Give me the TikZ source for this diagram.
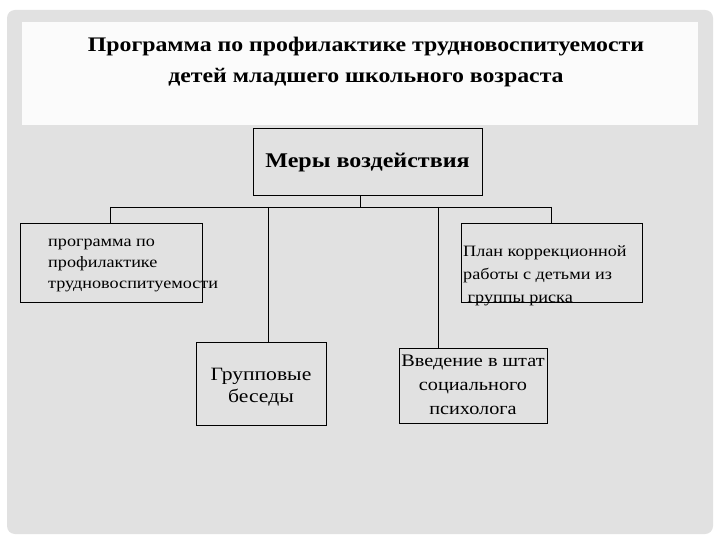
\documentclass[tikz,border=0pt]{standalone}
\usepackage{fontspec}
\setmainfont{Liberation Serif}[FakeStretch=1.15]
\definecolor{slidegray}{HTML}{E1E1E1}
\definecolor{panelwhite}{HTML}{FBFBFB}
\begin{document}
\begin{tikzpicture}[x=1pt,y=-1pt,
  box/.style={draw=black, line width=0.8pt, inner sep=0pt},
  ln/.style={inner sep=0pt, anchor=base west},
  lnc/.style={inner sep=0pt, anchor=base},
  link/.style={draw=black, line width=0.8pt}]
\useasboundingbox (0,0) rectangle (720,540);
\fill[white] (0,0) rectangle (720,540);
\fill[slidegray, rounded corners=8pt] (7,10) rectangle (713,534);
\fill[panelwhite] (22,22) rectangle (698,125);
% title
\node[lnc, font=\bfseries\fontsize{20.7}{26}\selectfont] (t1) at (366,52) {Программа по профилактике трудновоспитуемости};
\node[lnc, font=\bfseries\fontsize{20.7}{26}\selectfont] (t2) at (366,83) {детей младшего школьного возраста};
% boxes
\node[box, minimum width=229pt, minimum height=67pt] (mery) at (367.5,161.5) {};
\node[box, minimum width=182pt, minimum height=79pt] (left) at (111,262.5) {};
\node[box, minimum width=181pt, minimum height=79pt] (right) at (551.5,262.5) {};
\node[box, minimum width=130pt, minimum height=83pt] (grp) at (261,383.5) {};
\node[box, minimum width=148pt, minimum height=75pt] (vved) at (473,385.5) {};
% texts
\node[lnc, font=\bfseries\fontsize{20.9}{26}\selectfont] (mt) at (367.5,168) {Меры воздействия};
\begin{scope}[font=\fontsize{15.8}{20}\selectfont]
\node[ln] (l1) at (48,246) {программа по};
\node[ln] (l2) at (48,267) {профилактике};
\node[ln] (l3) at (48,288) {трудновоспитуемости};
\node[ln] (r1) at (463,256) {План коррекционной};
\node[ln] (r2) at (463,279) {работы с детьми из};
\node[ln] (r3) at (463,302) {\ группы риска};
\end{scope}
\begin{scope}[font=\fontsize{18.8}{24}\selectfont]
\node[lnc] (g1) at (261,380) {Групповые};
\node[lnc] (g2) at (261,402) {беседы};
\end{scope}
\begin{scope}[font=\fontsize{17.6}{24}\selectfont]
\node[lnc] (v1) at (473,366) {Введение в штат};
\node[lnc] (v2) at (473,390) {социального};
\node[lnc] (v3) at (473,414) {психолога};
\end{scope}
% connectors
\coordinate (bus) at (360,207);
\coordinate (bl) at (110,207);
\coordinate (br) at (551,207);
\coordinate (bg) at (268,207);
\coordinate (bv) at (438,207);
\draw[link] (mery.south -| bus) -- (bus);
\draw[link] (bl) -- (br);
\draw[link] (bl) -- (bl |- left.north);
\draw[link] (br) -- (br |- right.north);
\draw[link] (bg) -- (bg |- grp.north);
\draw[link] (bv) -- (bv |- vved.north);
\end{tikzpicture}
\end{document}
